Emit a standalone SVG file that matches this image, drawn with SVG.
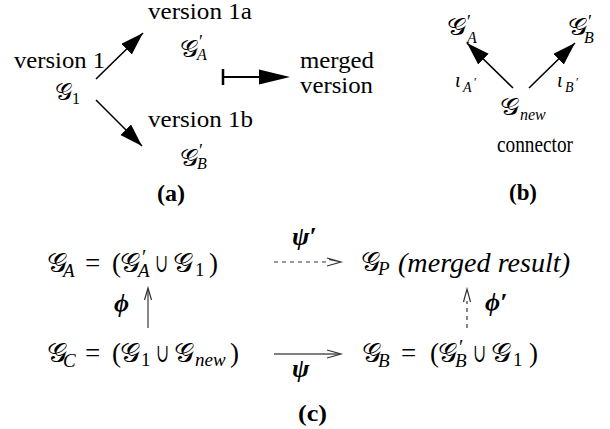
<svg xmlns="http://www.w3.org/2000/svg" width="610" height="429" viewBox="0 0 610 429">
<style>
.t{font-family:"Liberation Serif","Times New Roman",serif;fill:#000}
.b{font-weight:bold}
.i{font-style:italic}
.cal{font-family:"DejaVu Serif","DejaVu Sans","Noto Sans",serif;fill:#000}
.sym{font-family:"DejaVu Serif","Liberation Serif",serif;fill:#000}
.solid{stroke:#000;stroke-width:1.6;fill:none}
.thin{stroke:#555;stroke-width:1.4;fill:none}
.dash{stroke:#333;stroke-width:1.2;fill:none;stroke-dasharray:4 4}
.head{stroke:#333;stroke-width:1.2;fill:none}
</style>
<defs>
<marker id="tri" markerUnits="userSpaceOnUse" markerWidth="24" markerHeight="16" refX="23" refY="7.5" orient="auto">
<path d="M0,0 L23,7.5 L0,15 z" fill="#000"/>
</marker>
</defs>

<!-- (a) -->
<g id="v1">
<text class="t" x="14" y="68" font-size="24" textLength="91" lengthAdjust="spacingAndGlyphs">version 1</text>
<text class="cal" x="55" y="100" font-size="23" textLength="17" lengthAdjust="spacingAndGlyphs">𝒢</text>
<text class="t" x="72" y="104" font-size="16">1</text>
</g>
<g id="v1a">
<text class="t" x="148" y="19" font-size="24" textLength="104" lengthAdjust="spacingAndGlyphs">version 1a</text>
<text class="cal" x="180" y="57" font-size="23" textLength="18" lengthAdjust="spacingAndGlyphs">𝒢</text>
<text class="t" x="199" y="48" font-size="18">′</text>
<text class="t i" x="197" y="60" font-size="16">A</text>
</g>
<g id="v1b">
<text class="t" x="148" y="127" font-size="24" textLength="105" lengthAdjust="spacingAndGlyphs">version 1b</text>
<text class="cal" x="180" y="166" font-size="23" textLength="18" lengthAdjust="spacingAndGlyphs">𝒢</text>
<text class="t" x="199" y="157" font-size="18">′</text>
<text class="t i" x="197" y="169" font-size="16">B</text>
</g>
<g id="merged">
<text class="t" x="300" y="68" font-size="24" textLength="74" lengthAdjust="spacingAndGlyphs">merged</text>
<text class="t" x="300" y="93" font-size="24" textLength="73" lengthAdjust="spacingAndGlyphs">version</text>
</g>
<text class="t b" x="157" y="201" font-size="23" textLength="28" lengthAdjust="spacingAndGlyphs">(a)</text>

<!-- (b) -->
<g id="GA">
<text class="cal" x="447" y="35" font-size="23" textLength="19" lengthAdjust="spacingAndGlyphs">𝒢</text>
<text class="t" x="467" y="28" font-size="18">′</text>
<text class="t i" x="467" y="43" font-size="16">A</text>
</g>
<g id="GB">
<text class="cal" x="568" y="35" font-size="23" textLength="19" lengthAdjust="spacingAndGlyphs">𝒢</text>
<text class="t" x="588" y="28" font-size="18">′</text>
<text class="t i" x="584" y="43" font-size="16">B</text>
</g>
<g id="Gnew">
<text class="cal" x="500" y="115" font-size="23" textLength="19" lengthAdjust="spacingAndGlyphs">𝒢</text>
<text class="t i" x="520" y="120" font-size="16">new</text>
<text class="t" x="497" y="152" font-size="24" textLength="76" lengthAdjust="spacingAndGlyphs">connector</text>
</g>
<text class="t b" x="509" y="200" font-size="23" textLength="28" lengthAdjust="spacingAndGlyphs">(b)</text>

<!-- (c) -->
<g id="GAeq">
<text class="cal" x="47" y="272" font-size="27" textLength="20" lengthAdjust="spacingAndGlyphs">𝒢</text>
<text class="t i" x="63" y="277" font-size="19">A</text>
<text class="t" x="85" y="272" font-size="27">=</text>
<text class="t" x="112" y="272" font-size="27">(</text>
<text class="cal" x="120" y="272" font-size="27" textLength="20" lengthAdjust="spacingAndGlyphs">𝒢</text>
<text class="t" x="142" y="264" font-size="20">′</text>
<text class="t i" x="138" y="277" font-size="19">A</text>
<text class="sym" x="155" y="272" font-size="26" textLength="13" lengthAdjust="spacingAndGlyphs">∪</text>
<text class="cal" x="173" y="272" font-size="27" textLength="20" lengthAdjust="spacingAndGlyphs">𝒢</text>
<text class="t" x="195" y="276" font-size="19">1</text>
<text class="t" x="209" y="272" font-size="27">)</text>
</g>
<g id="GCeq">
<text class="cal" x="47" y="362" font-size="27" textLength="20" lengthAdjust="spacingAndGlyphs">𝒢</text>
<text class="t i" x="63" y="367" font-size="19">C</text>
<text class="t" x="85" y="362" font-size="27">=</text>
<text class="t" x="112" y="362" font-size="27">(</text>
<text class="cal" x="120" y="362" font-size="27" textLength="20" lengthAdjust="spacingAndGlyphs">𝒢</text>
<text class="t" x="141" y="366" font-size="19">1</text>
<text class="sym" x="156" y="362" font-size="26" textLength="13" lengthAdjust="spacingAndGlyphs">∪</text>
<text class="cal" x="174" y="362" font-size="27" textLength="20" lengthAdjust="spacingAndGlyphs">𝒢</text>
<text class="t i" x="195" y="366" font-size="19">new</text>
<text class="t" x="230" y="362" font-size="27">)</text>
</g>
<g id="GP">
<text class="cal" x="361" y="271" font-size="27" textLength="19" lengthAdjust="spacingAndGlyphs">𝒢</text>
<text class="t i" x="378" y="275" font-size="19">P</text>
<text class="t i" x="398" y="272" font-size="28" textLength="172" lengthAdjust="spacingAndGlyphs">(merged  result)</text>
</g>
<g id="GBeq">
<text class="cal" x="362" y="362" font-size="27" textLength="19" lengthAdjust="spacingAndGlyphs">𝒢</text>
<text class="t i" x="378" y="367" font-size="19">B</text>
<text class="t" x="401" y="362" font-size="27">=</text>
<text class="t" x="430" y="362" font-size="27">(</text>
<text class="cal" x="438" y="362" font-size="27" textLength="19" lengthAdjust="spacingAndGlyphs">𝒢</text>
<text class="t" x="459" y="354" font-size="20">′</text>
<text class="t i" x="455" y="367" font-size="19">B</text>
<text class="sym" x="473" y="362" font-size="26" textLength="13" lengthAdjust="spacingAndGlyphs">∪</text>
<text class="cal" x="491" y="362" font-size="27" textLength="20" lengthAdjust="spacingAndGlyphs">𝒢</text>
<text class="t" x="513" y="366" font-size="19">1</text>
<text class="t" x="529" y="362" font-size="27">)</text>
</g>
<text class="t b" x="298" y="421" font-size="23" textLength="29" lengthAdjust="spacingAndGlyphs">(c)</text>

<g id="labels">
<text class="t b i" x="292" y="245" font-size="26">ψ′</text>
<text class="t b i" x="292" y="377" font-size="26">ψ</text>
<text class="t b i" x="114" y="312" font-size="26">ϕ</text>
<text class="t b i" x="485" y="311" font-size="26">ϕ′</text>
<text class="t i" x="455" y="87" font-size="20">ι</text>
<text class="t i" x="463" y="92" font-size="14">A</text>
<text class="t" x="474" y="86" font-size="12">′</text>
<text class="t i" x="557" y="87" font-size="20">ι</text>
<text class="t i" x="565" y="92" font-size="14">B</text>
<text class="t" x="576" y="86" font-size="12">′</text>
</g>

<g id="connectors">
<line class="solid" x1="96" y1="79" x2="143" y2="33" marker-end="url(#tri)"/>
<line class="solid" x1="96" y1="100" x2="142" y2="146" marker-end="url(#tri)"/>
<line x1="223" y1="69" x2="223" y2="85" stroke="#000" stroke-width="2.5"/>
<line x1="223" y1="77" x2="262" y2="77" stroke="#000" stroke-width="2"/>
<path d="M259,69.5 L290,77 L259,84.5 z" fill="#000"/>
<line class="solid" x1="513" y1="88" x2="467" y2="43" marker-end="url(#tri)"/>
<line class="solid" x1="529" y1="88" x2="575" y2="43" marker-end="url(#tri)"/>
<line class="dash" x1="274" y1="262" x2="326" y2="262"/>
<path class="head" d="M327,258 L341,262 L327,266 M329,259.5 L341,262"/>
<line class="thin" x1="274" y1="354" x2="340" y2="354"/>
<path class="head" d="M327,350 L341,354 L327,358"/>
<line class="thin" x1="148" y1="328" x2="148" y2="289"/>
<path class="head" d="M144.5,300 L148,288 L151.5,300"/>
<line class="dash" x1="467" y1="328" x2="467" y2="301"/>
<path class="head" d="M463.5,302 L467,289 L470.5,302"/>
</g>
</svg>
